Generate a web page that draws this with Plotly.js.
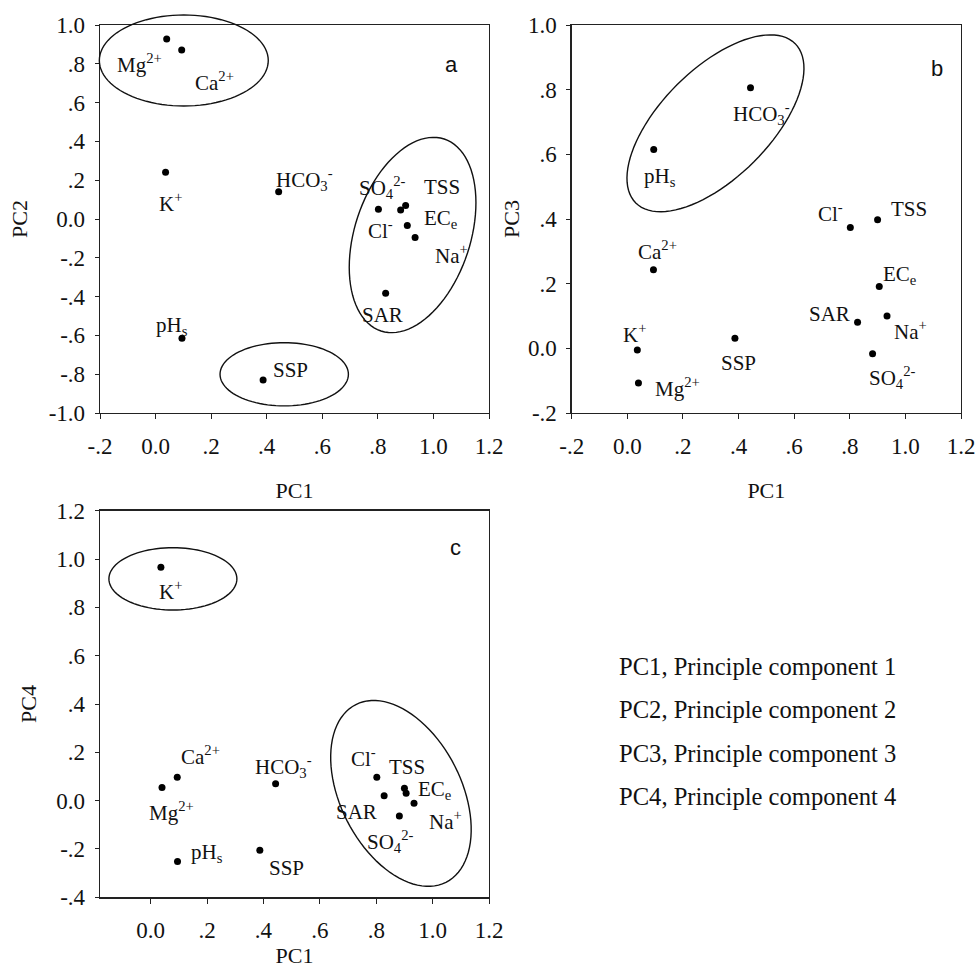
<!DOCTYPE html>
<html><head><meta charset="utf-8">
<script src="https://cdn.plot.ly/plotly-3.0.1.min.js"></script>
<style>html,body{margin:0;padding:0;background:#fff}</style>
</head><body><div id="chart" style="width:976px;height:968px"></div>
<script>
// ---------------- data ----------------
const variables = ['Mg','Ca','K','HCO3','Cl','SAR','SO4','TSS','EC','Na','pHs','SSP'];
const varLabels = ['Mg<sup>2+</sup>','Ca<sup>2+</sup>','K<sup>+</sup>','HCO<sub>3</sub><sup>-</sup>','Cl<sup>-</sup>','SAR','SO<sub>4</sub><sup>2-</sup>','TSS','EC<sub>e</sub>','Na<sup>+</sup>','pH<sub>s</sub>','SSP'];
const pc1 = [0.040, 0.094, 0.036, 0.443, 0.802, 0.828, 0.882, 0.900, 0.906, 0.934, 0.095, 0.387];
const pc2 = [0.928, 0.871, 0.241, 0.141, 0.050, -0.383, 0.046, 0.069, -0.033, -0.096, -0.615, -0.830];
const pc3 = [-0.107, 0.243, -0.005, 0.806, 0.374, 0.081, -0.017, 0.398, 0.191, 0.100, 0.615, 0.031];
const pc4 = [0.054, 0.097, 0.966, 0.070, 0.097, 0.020, -0.064, 0.051, 0.031, -0.011, -0.252, -0.205];

const xTickVals = [-0.2, 0, 0.2, 0.4, 0.6, 0.8, 1.0, 1.2];
const xTickText = ['-.2', '0.0', '.2', '.4', '.6', '.8', '1.0', '1.2'];
const xTickValsC = [0, 0.2, 0.4, 0.6, 0.8, 1.0, 1.2];
const xTickTextC = ['0.0', '.2', '.4', '.6', '.8', '1.0', '1.2'];
const pc2TickVals = [-1.0, -0.8, -0.6, -0.4, -0.2, 0, 0.2, 0.4, 0.6, 0.8, 1.0];
const pc2TickText = ['-1.0', '-.8', '-.6', '-.4', '-.2', '0.0', '.2', '.4', '.6', '.8', '1.0'];
const pc3TickVals = [-0.2, 0, 0.2, 0.4, 0.6, 0.8, 1.0];
const pc3TickText = ['-.2', '0.0', '.2', '.4', '.6', '.8', '1.0'];
const pc4TickVals = [-0.4, -0.2, 0, 0.2, 0.4, 0.6, 0.8, 1.0, 1.2];
const pc4TickText = ['-.4', '-.2', '0.0', '.2', '.4', '.6', '.8', '1.0', '1.2'];

const legendLines = ['PC1, Principle component 1', 'PC2, Principle component 2', 'PC3, Principle component 3', 'PC4, Principle component 4'];
const panelLetters = ['a', 'b', 'c'];

// ---------------- styling / placement ----------------
const SERIF = 'Liberation Serif, Times New Roman, serif';
const SANS = 'Liberation Sans, Arial, sans-serif';
const W = 976, H = 968;
const TICKSIZE = 23, TITLESIZE = 22, LABELSIZE = 21;

// label offsets in px (dx right, dy down) per panel, order = variables
const offA = [[-27,25],[33,31],[5,30],[26,-12],[2,20],[-3,22],[-18,-23],[36,-19],[34,-6],[36,17],[-10,-12],[27,-10]];
const offB = [[39,5],[4,-19],[-3,-16],[11,26],[-20,-15],[-28,-8],[20,24],[31,-11],[21,-12],[23,14],[6,28],[4,25]];
const offC = [[9,24],[23,-22],[10,23],[8,-17],[-13,-20],[-28,16],[-9,25],[3,-21],[29,-3],[31,17],[29,-9],[27,18]];

const dom = {
  x:  [100/W, 489/W],  y:  [1-413/H, 1-25/H],
  x2: [571.7/W, 961/W], y2: [1-413/H, 1-25/H],
  x3: [100/W, 489/W],  y3: [1-897.3/H, 1-510.7/H]
};
const rng = {
  x: [-0.2, 1.2], y: [-1.0, 1.0],
  x2: [-0.2, 1.2], y2: [-0.2, 1.0],
  x3: [-0.18, 1.2], y3: [-0.4, 1.2]
};

// ellipses: center + conjugate semi-axis vectors in data units
const ellipses = [
  {xa:'x', ya:'y', c:[0.1016, 0.817], a:[0.304, 0], b:[0, 0.2345]},
  {xa:'x', ya:'y', c:[0.925, -0.0825], a:[0.1137, 0.4948], b:[0.1976, -0.0928]},
  {xa:'x', ya:'y', c:[0.463, -0.8005], a:[0.231, 0], b:[0, 0.163]},
  {xa:'x2', ya:'y2', c:[0.317, 0.696], a:[0.2866, 0.2463], b:[0.1384, -0.119]},
  {xa:'x3', ya:'y3', c:[0.0786, 0.918], a:[0.227, 0], b:[0, 0.129]},
  {xa:'x3', ya:'y3', c:[0.8876, 0.030], a:[0.1597, -0.3678], b:[-0.1914, -0.1125]}
];

function toPaper(axName, v) {
  const d = dom[axName], r = rng[axName];
  return d[0] + (v - r[0]) / (r[1] - r[0]) * (d[1] - d[0]);
}
function ellipsePath(e) {
  let p = '';
  const n = 96;
  for (let i = 0; i <= n; i++) {
    const t = 2 * Math.PI * i / n;
    const xv = e.c[0] + e.a[0] * Math.cos(t) + e.b[0] * Math.sin(t);
    const yv = e.c[1] + e.a[1] * Math.cos(t) + e.b[1] * Math.sin(t);
    p += (i === 0 ? 'M' : 'L') + toPaper(e.xa, xv).toFixed(5) + ',' + toPaper(e.ya, yv).toFixed(5);
  }
  return p + 'Z';
}

const markerStyle = {color: '#000', size: 7};
const traces = [
  {x: pc1, y: pc2, xaxis: 'x', yaxis: 'y', type: 'scatter', mode: 'markers', marker: markerStyle, hoverinfo: 'none', showlegend: false},
  {x: pc1, y: pc3, xaxis: 'x2', yaxis: 'y2', type: 'scatter', mode: 'markers', marker: markerStyle, hoverinfo: 'none', showlegend: false},
  {x: pc1, y: pc4, xaxis: 'x3', yaxis: 'y3', type: 'scatter', mode: 'markers', marker: markerStyle, hoverinfo: 'none', showlegend: false}
];

const annotations = [];
function addLabels(ys, xr, yr, offs) {
  for (let i = 0; i < variables.length; i++) {
    annotations.push({
      x: pc1[i], y: ys[i], xref: xr, yref: yr, text: varLabels[i],
      showarrow: false, xanchor: 'center', yanchor: 'middle',
      xshift: offs[i][0], yshift: -offs[i][1],
      font: {family: SERIF, size: LABELSIZE, color: '#111'}
    });
  }
}
addLabels(pc2, 'x', 'y', offA);
addLabels(pc3, 'x2', 'y2', offB);
addLabels(pc4, 'x3', 'y3', offC);

const letterPos = [[451.7, 65], [936.7, 69], [455.7, 547.7]];
panelLetters.forEach((l, i) => annotations.push({
  x: letterPos[i][0] / W, y: 1 - letterPos[i][1] / H, xref: 'paper', yref: 'paper',
  text: l, showarrow: false, xanchor: 'center', yanchor: 'middle',
  font: {family: SANS, size: 22, color: '#111'}
}));
legendLines.forEach((t, i) => annotations.push({
  x: 617 / W, y: 1 - (666 + i * 43.6) / H, xref: 'paper', yref: 'paper',
  text: t, showarrow: false, xanchor: 'left', yanchor: 'middle',
  font: {family: SERIF, size: 24.6, color: '#111'}
}));

const shapes = ellipses.map(e => ({
  type: 'path', xref: 'paper', yref: 'paper', path: ellipsePath(e),
  line: {color: '#111', width: 1.4}, fillcolor: 'rgba(0,0,0,0)'
}));

function axisBase(extra) {
  return Object.assign({
    showline: true, linecolor: '#222', linewidth: 1.3, mirror: true,
    ticks: 'outside', ticklen: 5, tickwidth: 1, tickcolor: '#222',
    showgrid: false, zeroline: false, tickmode: 'array', fixedrange: true,
    tickfont: {family: SERIF, size: TICKSIZE, color: '#111'}
  }, extra);
}
function ttl(text, standoff) {
  return {text: text, font: {family: SERIF, size: TITLESIZE, color: '#111'}, standoff: standoff};
}

const layout = {
  width: W, height: H, margin: {l: 0, r: 0, t: 0, b: 0},
  paper_bgcolor: '#fff', plot_bgcolor: '#fff', showlegend: false,
  xaxis: axisBase({domain: dom.x, range: rng.x, anchor: 'y', tickvals: xTickVals, ticktext: xTickText, ticklabelstandoff: 7, title: ttl('PC1', 24)}),
  yaxis: axisBase({domain: dom.y, range: rng.y, anchor: 'x', tickvals: pc2TickVals, ticktext: pc2TickText, ticklabelstandoff: 5, ticklen: 4, title: ttl('PC2', 15)}),
  xaxis2: axisBase({domain: dom.x2, range: rng.x2, anchor: 'y2', tickvals: xTickVals, ticktext: xTickText, ticklabelstandoff: 7, title: ttl('PC1', 24)}),
  yaxis2: axisBase({domain: dom.y2, range: rng.y2, anchor: 'x2', tickvals: pc3TickVals, ticktext: pc3TickText, ticklabelstandoff: 5, ticklen: 4, title: ttl('PC3', 2)}),
  xaxis3: axisBase({domain: dom.x3, range: rng.x3, anchor: 'y3', tickvals: xTickValsC, ticktext: xTickTextC, ticklabelstandoff: 7, title: ttl('PC1', 15)}),
  yaxis3: axisBase({domain: dom.y3, range: rng.y3, anchor: 'x3', tickvals: pc4TickVals, ticktext: pc4TickText, ticklabelstandoff: 5, ticklen: 4, title: ttl('PC4', 13)}),
  annotations: annotations,
  shapes: shapes
};

Plotly.newPlot('chart', traces, layout, {staticPlot: true, displayModeBar: false});
</script>
</body></html>
